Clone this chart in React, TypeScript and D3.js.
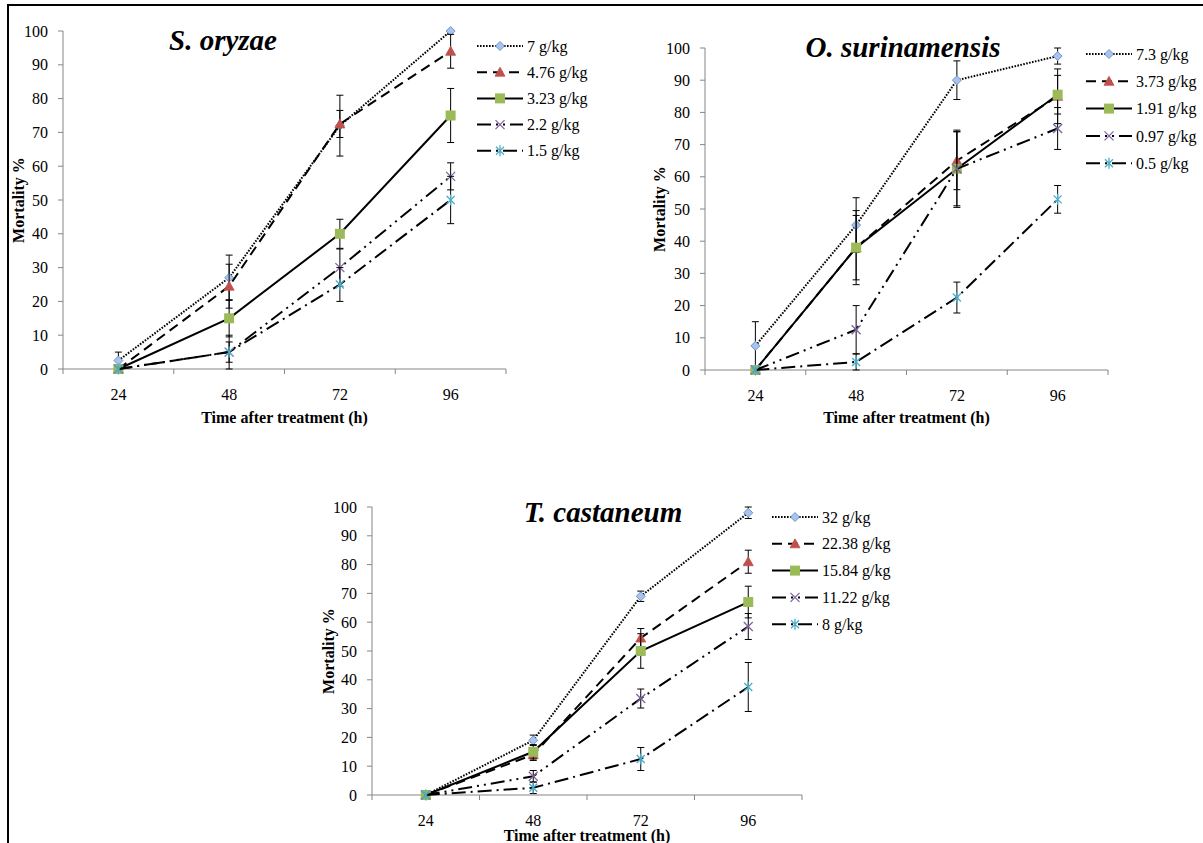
import * as d3 from "d3";

const times = ["24", "48", "72", "96"];
const yTicks = [0, 10, 20, 30, 40, 50, 60, 70, 80, 90, 100];

// S. oryzae
const oryzaeDoses = ["7 g/kg", "4.76 g/kg", "3.23 g/kg", "2.2 g/kg", "1.5 g/kg"];
const oryzaeMortality = [
  [2.5, 27, 72, 100],
  [0, 24.5, 72.5, 94],
  [0, 15, 40, 75],
  [0, 5, 30, 57],
  [0, 5, 25, 50],
];
const oryzaeError = [
  [2.5, 6.7, 9, 0],
  [0, 6.5, 4, 5],
  [0, 5.5, 4.3, 8],
  [0, 3, 5.5, 4],
  [0, 5, 5, 7],
];

// O. surinamensis
const surinDoses = ["7.3 g/kg", "3.73 g/kg", "1.91 g/kg", "0.97 g/kg", "0.5 g/kg"];
const surinMortality = [
  [7.5, 45, 90, 97.5],
  [0, 38, 65, 85],
  [0, 38, 62.5, 85.5],
  [0, 12.5, 62.5, 75],
  [0, 2.5, 22.5, 53],
];
const surinError = [
  [7.5, 8.5, 6, 2.5],
  [0, 10, 9, 8.5],
  [0, 11.5, 11.5, 6],
  [0, 7.5, 12, 6.5],
  [0, 2.5, 4.8, 4.3],
];

// T. castaneum
const castDoses = ["32 g/kg", "22.38 g/kg", "15.84 g/kg", "11.22 g/kg", "8 g/kg"];
const castMortality = [
  [0, 19, 69, 98],
  [0, 14, 54.5, 81],
  [0, 15, 50, 67],
  [0, 6.5, 33.5, 58.5],
  [0, 2.5, 12.5, 37.5],
];
const castError = [
  [0, 1.8, 1.8, 2],
  [0, 2, 3.3, 4],
  [0, 2.5, 6, 5.5],
  [0, 2, 3.3, 4.5],
  [0, 2, 4, 8.5],
];

const FONT = "'Liberation Serif', 'Times New Roman', serif";
const dashes = ["1.6 1.4", "10 6", "", "14 5 2 5 2 5", "14 5 2 5"];

const panels = [
  {
    title: "S. oryzae", doses: oryzaeDoses, values: oryzaeMortality, errors: oryzaeError,
    x0: 63, x1: 506, yTop: 31, yBot: 369, titleX: 223, titleY: 50,
    legX: 477, legY: 46, legDy: 26.2, yTitleX: 18, xTitleY: 423,
  },
  {
    title: "O. surinamensis", doses: surinDoses, values: surinMortality, errors: surinError,
    x0: 705, x1: 1108, yTop: 48, yBot: 370, titleX: 903, titleY: 57,
    legX: 1086, legY: 54, legDy: 27.3, yTitleX: 659, xTitleY: 423,
  },
  {
    title: "T. castaneum", doses: castDoses, values: castMortality, errors: castError,
    x0: 372, x1: 802, yTop: 507, yBot: 795, titleX: 603, titleY: 522,
    legX: 772, legY: 517, legDy: 26.8, yTitleX: 328, xTitleY: 841,
  },
];

function Marker({ kind, x, y }: { kind: number; x: number; y: number }) {
  const t = `translate(${x},${y})`;
  if (kind === 0)
    return <path transform={t} d="M0,-4.5L4.5,0L0,4.5L-4.5,0Z" fill="#a9c4eb" stroke="#6f96d1" strokeWidth={1} />;
  if (kind === 1)
    return <path transform={t} d="M0,-5L5,4L-5,4Z" fill="#c0504d" stroke="#c0504d" strokeWidth={0.8} />;
  if (kind === 2)
    return <rect transform={t} x={-5} y={-5} width={10} height={10} fill="#9bbb59" />;
  if (kind === 3)
    return <path transform={t} d="M-4.5,-4.5L4.5,4.5M4.5,-4.5L-4.5,4.5" stroke="#8064a2" strokeWidth={1.3} fill="none" />;
  return (
    <path transform={t} d="M-4,-4L4,4M4,-4L-4,4M0,-5.5L0,5.5" stroke="#4bacc6" strokeWidth={1.3} fill="none" />
  );
}

function Panel({ p }: { p: (typeof panels)[number] }) {
  const x = d3.scaleBand<string>().domain(times).range([p.x0, p.x1]);
  const y = d3.scaleLinear().domain([0, 100]).range([p.yBot, p.yTop]);
  const cx = (t: string) => (x(t) as number) + x.bandwidth() / 2;
  const line = d3
    .line<number>()
    .x((_, i) => cx(times[i]))
    .y((v) => y(v));
  const bounds = times.map((t) => x(t) as number).concat([p.x1]);
  const axisColor = "#868686";

  return (
    <g fontFamily={FONT}>
      {/* axes */}
      <line x1={p.x0} x2={p.x0} y1={p.yTop} y2={p.yBot} stroke={axisColor} />
      <line x1={p.x0} x2={p.x1} y1={p.yBot} y2={p.yBot} stroke={axisColor} />
      {yTicks.map((v) => (
        <g key={v}>
          <line x1={p.x0 - 5} x2={p.x0} y1={y(v)} y2={y(v)} stroke={axisColor} />
          <text x={p.x0 - 15} y={y(v)} dy="0.35em" textAnchor="end" fontSize={16}>
            {v}
          </text>
        </g>
      ))}
      {bounds.map((b, i) => (
        <line key={i} x1={b} x2={b} y1={p.yBot} y2={p.yBot + 5} stroke={axisColor} />
      ))}
      {times.map((t) => (
        <text key={t} x={cx(t)} y={p.yBot + 31} textAnchor="middle" fontSize={16}>
          {t}
        </text>
      ))}
      <text x={(p.x0 + p.x1) / 2} y={p.xTitleY} textAnchor="middle" fontSize={16} fontWeight="bold">
        Time after treatment (h)
      </text>
      <text
        transform={`translate(${p.yTitleX},${(p.yTop + p.yBot) / 2}) rotate(-90)`}
        dy="0.35em"
        textAnchor="middle"
        fontSize={16}
        fontWeight="bold"
      >
        Mortality %
      </text>
      <text x={p.titleX} y={p.titleY} textAnchor="middle" fontSize={29} fontWeight="bold" fontStyle="italic">
        {p.title}
      </text>

      {/* series */}
      {p.values.map((vals, s) => (
        <g key={s}>
          <path d={line(vals) as string} fill="none" stroke="#000" strokeWidth={2} strokeDasharray={dashes[s]} />
          {vals.map((v, i) =>
            p.errors[s][i] > 0 ? (
              <g key={i} stroke="#000" strokeWidth={1}>
                <line x1={cx(times[i])} x2={cx(times[i])} y1={y(v - p.errors[s][i])} y2={y(Math.min(100, v + p.errors[s][i]))} />
                <line x1={cx(times[i]) - 3.5} x2={cx(times[i]) + 3.5} y1={y(v - p.errors[s][i])} y2={y(v - p.errors[s][i])} />
                <line x1={cx(times[i]) - 3.5} x2={cx(times[i]) + 3.5} y1={y(Math.min(100, v + p.errors[s][i]))} y2={y(Math.min(100, v + p.errors[s][i]))} />
              </g>
            ) : null
          )}
          {vals.map((v, i) => (
            <Marker key={`m${i}`} kind={s} x={cx(times[i])} y={y(v)} />
          ))}
        </g>
      ))}

      {/* legend */}
      {p.doses.map((d, s) => {
        const ly = p.legY + s * p.legDy;
        return (
          <g key={d}>
            <line x1={p.legX} x2={p.legX + 46} y1={ly} y2={ly} stroke="#000" strokeWidth={2} strokeDasharray={dashes[s]} />
            <Marker kind={s} x={p.legX + 23} y={ly} />
            <text x={p.legX + 50} y={ly} dy="0.35em" fontSize={16}>
              {d}
            </text>
          </g>
        );
      })}
    </g>
  );
}

export default function App() {
  return (
    <svg
      width={1203}
      height={843}
      style={{ position: "absolute", left: 0, top: 0, background: "#fff" }}
    >
      <rect width={1203} height={843} fill="#fff" />
      <line x1={7} x2={1203} y1={5} y2={5} stroke="#000" strokeWidth={2} />
      <line x1={8} x2={8} y1={4} y2={843} stroke="#000" strokeWidth={2} />
      {panels.map((p) => (
        <Panel key={p.title} p={p} />
      ))}
    </svg>
  );
}
